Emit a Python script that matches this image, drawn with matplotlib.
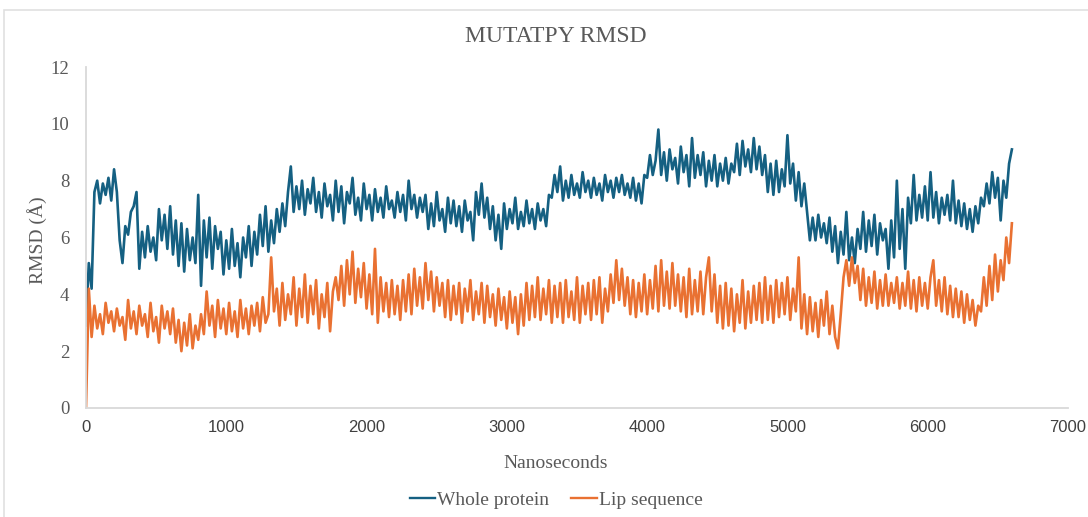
import numpy as np
import matplotlib
matplotlib.use("Agg")
import matplotlib.pyplot as plt
from matplotlib.patches import Rectangle
from matplotlib.lines import Line2D

# Sample spacing of the traces (ns)
step = 20
ns = np.arange(0, 6601, step)

whole_protein = [
    2.9, 5.1, 4.2, 7.6, 8.0, 7.2, 7.9, 7.5, 8.1, 7.3,
    8.4, 7.6, 5.9, 5.1, 6.4, 6.1, 6.9, 7.1, 7.6, 4.9,
    6.2, 5.3, 6.4, 5.5, 6.0, 5.2, 7.0, 5.9, 6.8, 5.6,
    7.1, 5.4, 6.6, 5.0, 6.5, 4.8, 6.3, 5.2, 6.0, 5.1,
    7.5, 4.3, 6.6, 5.3, 6.7, 4.9, 6.4, 5.6, 6.2, 4.7,
    5.9, 4.9, 6.3, 5.0, 5.8, 4.6, 6.0, 5.3, 6.4, 5.0,
    6.2, 5.4, 6.8, 5.7, 7.1, 5.5, 6.6, 5.8, 7.0, 6.2,
    7.2, 6.4, 7.6, 8.5, 6.9, 7.8, 7.0, 8.0, 6.8, 7.7,
    7.2, 8.1, 6.9, 7.6, 6.7, 7.9, 7.1, 7.5, 6.6, 8.0,
    6.9, 7.8, 6.5, 7.6, 7.2, 8.1, 6.8, 7.4, 6.6, 7.9,
    7.0, 7.5, 6.6, 7.7, 6.9, 7.4, 6.7, 7.8, 7.0, 7.3,
    6.7, 7.6, 6.9, 7.5, 6.6, 8.0, 7.0, 7.5, 6.7, 7.4,
    6.9, 7.5, 6.3, 7.2, 6.4, 7.6, 6.6, 7.0, 6.2, 7.4,
    6.5, 7.3, 6.4, 7.1, 6.2, 7.3, 6.6, 6.9, 5.9, 7.6,
    6.8, 7.9, 6.7, 7.4, 6.3, 7.1, 5.9, 6.8, 5.6, 7.2,
    6.3, 7.0, 6.5, 7.4, 6.3, 6.9, 6.4, 7.3, 6.5, 7.0,
    6.3, 7.2, 6.6, 7.0, 6.4, 7.5, 7.4, 8.2, 7.6, 8.5,
    7.3, 8.0, 7.4, 8.2, 7.5, 7.9, 7.4, 8.3, 7.6, 8.0,
    7.4, 8.1, 7.5, 7.9, 7.3, 8.2, 7.6, 8.0, 7.4, 8.1,
    7.6, 8.2, 7.5, 7.9, 7.4, 8.1, 7.3, 7.9, 7.2, 8.2,
    8.1, 8.9, 8.2, 8.7, 9.8, 8.2, 9.0, 8.0, 9.1, 8.4,
    8.8, 7.9, 9.2, 8.3, 8.9, 7.8, 9.5, 8.1, 8.9, 8.2,
    9.0, 7.8, 8.7, 8.0, 8.9, 7.8, 8.6, 8.0, 8.8, 7.9,
    8.6, 8.3, 9.3, 8.2, 9.4, 8.5, 9.1, 8.3, 9.5, 8.4,
    9.2, 8.2, 8.9, 7.6, 8.6, 7.5, 8.7, 7.6, 8.4, 7.8,
    9.6, 7.9, 8.6, 7.3, 8.3, 7.1, 7.9, 6.9, 5.9, 6.7,
    5.9, 6.8, 6.0, 6.5, 5.8, 6.7, 5.5, 6.4, 5.1, 6.2,
    5.4, 6.9, 5.2, 6.0, 5.1, 6.3, 5.6, 6.9, 5.5, 6.6,
    5.7, 6.8, 5.4, 6.5, 5.9, 6.3, 4.9, 6.6, 5.3, 8.0,
    5.6, 7.0, 4.9, 7.4, 6.5, 8.2, 6.6, 7.5, 6.7, 7.8,
    6.6, 8.3, 6.7, 7.6, 6.5, 7.4, 6.8, 7.5, 6.6, 8.0,
    6.5, 7.3, 6.4, 7.2, 6.3, 7.0, 6.2, 7.1, 6.5, 7.4,
    7.1, 7.9, 7.2, 8.3, 7.4, 8.1, 6.6, 8.0, 7.4, 8.6,
    9.1,
]

lip_sequence = [
    0.0, 4.2, 2.5, 3.6, 2.8, 3.3, 2.6, 3.7, 3.0, 3.4,
    2.7, 3.5, 2.9, 3.2, 2.4, 3.8, 2.8, 3.4, 2.6, 3.6,
    2.9, 3.3, 2.5, 3.7, 2.7, 3.2, 2.3, 3.6, 2.8, 3.4,
    2.6, 3.5, 2.3, 3.1, 2.0, 3.0, 2.2, 3.3, 2.1, 2.9,
    2.4, 3.3, 2.6, 4.1, 2.9, 3.6, 2.5, 3.8, 2.8, 3.5,
    2.6, 3.7, 2.7, 3.4, 2.5, 3.8, 2.8, 3.5, 2.6, 3.6,
    2.9, 3.7, 2.7, 3.9, 3.0, 3.3, 5.3, 3.4, 4.2, 2.9,
    4.4, 3.1, 4.0, 3.3, 4.6, 2.9, 4.2, 3.2, 4.7, 3.0,
    4.3, 3.3, 4.5, 2.8, 4.0, 3.2, 4.4, 2.7, 4.1, 4.6,
    3.8, 5.0, 3.6, 5.2, 4.0, 5.5, 3.7, 4.9, 3.9, 5.1,
    3.5, 4.7, 3.3, 5.6, 3.0, 4.6, 3.4, 4.4, 3.2, 4.5,
    3.3, 4.3, 3.1, 4.5, 3.4, 4.7, 3.3, 4.9, 3.6, 4.6,
    3.5, 5.1, 3.8, 4.8, 3.4, 4.6, 3.6, 4.4, 3.2, 4.5,
    3.1, 4.3, 3.3, 4.4, 3.0, 4.2, 3.4, 4.5, 3.1, 4.1,
    3.3, 4.4, 3.0, 4.3, 3.2, 4.0, 2.9, 4.2, 3.1, 3.9,
    2.8, 4.1, 3.0, 3.9, 2.6, 4.0, 2.9, 4.4, 3.1, 4.3,
    3.2, 4.6, 3.1, 4.2, 3.3, 4.5, 3.0, 4.3, 3.2, 4.4,
    3.0, 4.5, 3.2, 4.1, 3.1, 4.6, 3.0, 4.3, 3.3, 4.4,
    3.1, 4.5, 3.3, 4.6, 3.0, 4.2, 3.4, 4.7, 3.7, 5.2,
    3.8, 4.9, 3.6, 4.6, 3.3, 4.5, 3.2, 4.4, 3.4, 4.7,
    3.3, 4.5, 3.5, 5.0, 3.4, 5.2, 3.6, 4.8, 3.5, 5.1,
    3.6, 4.7, 3.4, 4.6, 3.2, 4.9, 3.3, 4.5, 3.4, 4.8,
    3.3, 4.6, 5.3, 3.4, 4.7, 3.0, 4.3, 2.8, 4.4, 2.9,
    4.2, 2.7, 4.0, 3.0, 4.5, 2.8, 4.1, 3.0, 4.3, 3.1,
    4.4, 3.0, 4.6, 3.1, 4.3, 3.0, 4.5, 3.2, 4.4, 3.3,
    4.6, 3.1, 4.2, 3.4, 5.3, 2.8, 4.0, 2.6, 3.9, 2.7,
    3.7, 2.5, 3.8, 2.9, 4.1, 2.6, 3.6, 2.5, 2.1, 3.3,
    4.6, 5.2, 4.3, 5.3, 4.4, 5.0, 3.8, 4.9, 3.6, 4.6,
    3.7, 4.8, 3.5, 4.5, 3.6, 4.7, 3.6, 4.4, 3.7, 4.6,
    3.5, 4.4, 3.6, 4.8, 3.5, 4.5, 3.4, 4.6, 3.6, 4.4,
    3.5, 4.6, 5.2, 3.6, 4.5, 3.4, 4.6, 3.3, 4.3, 3.2,
    4.2, 3.2, 4.1, 3.0, 4.0, 3.1, 3.8, 2.9, 3.6, 3.4,
    4.6, 3.6, 5.0, 3.8, 5.4, 4.1, 5.2, 4.5, 6.0, 5.1,
    6.5,
]

x_ticks = [0, 1000, 2000, 3000, 4000, 5000, 6000, 7000]
y_ticks = [0, 2, 4, 6, 8, 10, 12]

blue = "#156082"
orange = "#E97132"
grey_txt = "#595959"
axis_grey = "#d9d9d9"

fig = plt.figure(figsize=(10.88, 5.17), dpi=100)
ax = fig.add_axes([86 / 1088, 1 - 408 / 517, (1068 - 86) / 1088, (408 - 67) / 517])

ax.plot(ns, whole_protein, color=blue, lw=1.9, label="Whole protein")
ax.plot(ns, lip_sequence, color=orange, lw=1.9, label="Lip sequence")

ax.set_xlim(0, 7000)
ax.set_ylim(0, 12)
ax.set_xticks(x_ticks)
ax.set_yticks(y_ticks)
ax.set_xticklabels([str(t) for t in x_ticks], fontfamily="Liberation Sans",
                   fontsize=12, color="#404040")
ax.set_yticklabels([str(t) for t in y_ticks], fontfamily="Liberation Serif",
                   fontsize=13.5, color=grey_txt)
ax.tick_params(axis="both", length=0)
ax.tick_params(axis="x", pad=9)
ax.tick_params(axis="y", pad=12)

for side in ["top", "right"]:
    ax.spines[side].set_visible(False)
for side in ["left", "bottom"]:
    ax.spines[side].set_color(axis_grey)
    ax.spines[side].set_linewidth(1.3)

fig.text(37 / 1088, 1 - 240 / 517, "RMSD (Å)", rotation=90, ha="center", va="center",
         fontfamily="Liberation Serif", fontsize=14, color=grey_txt)
fig.text(556 / 1088, 1 - 463 / 517, "Nanoseconds", ha="center", va="center",
         fontfamily="Liberation Serif", fontsize=14, color=grey_txt)
fig.text(556 / 1088, 1 - 36 / 517, "MUTATPY RMSD", ha="center", va="center",
         fontfamily="Liberation Serif", fontsize=17, color=grey_txt)

handles = [Line2D([], [], color=blue, lw=1.7), Line2D([], [], color=orange, lw=1.7)]
fig.legend(handles, ["Whole protein", "Lip sequence"], loc="center",
           bbox_to_anchor=(556 / 1088, 1 - 500 / 517), ncol=2, frameon=False,
           prop={"family": "Liberation Serif", "size": 14}, labelcolor=grey_txt,
           handlelength=1.3, handletextpad=0.1, columnspacing=1.15)

# light frame around the chart area
fig.patches.append(Rectangle((4 / 1088, -0.01), 1.0, 1 - 10 / 517 + 0.01,
                             transform=fig.transFigure, fill=False,
                             edgecolor="#e0e0e0", lw=1.2))

fig.savefig("out.png", dpi=100)
plt.close(fig)
